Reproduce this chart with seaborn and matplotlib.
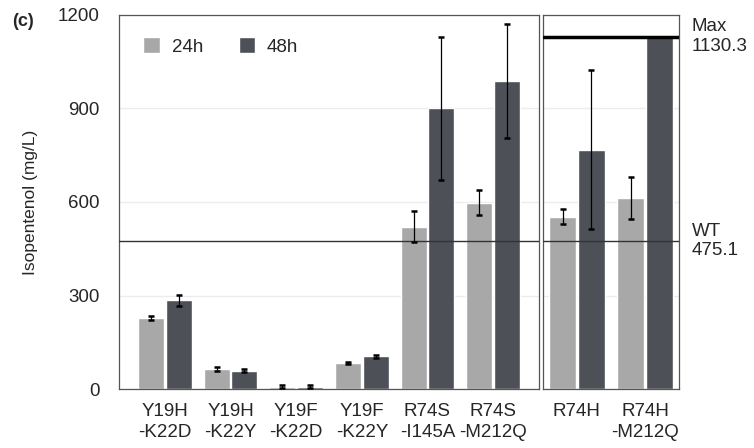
import matplotlib
matplotlib.use("Agg")
import matplotlib.pyplot as plt
import matplotlib.transforms as mtransforms
import seaborn as sns
import pandas as pd
import numpy as np

left_cats = ["Y19H\n-K22D", "Y19H\n-K22Y", "Y19F\n-K22D", "Y19F\n-K22Y", "R74S\n-I145A", "R74S\n-M212Q"]
right_cats = ["R74H", "R74H\n-M212Q"]
vals_24h = [228, 64, 8, 84, 521, 598, 553, 613]
vals_48h = [285, 59, 8, 105, 900, 988, 767, 1130.3]
err_24h = [6, 5, 4, 4, 50, 40, 25, 66]
err_48h = [18, 4, 4, 4, 228, 184, 255, 0]
series = ["24h", "48h"]
wt_value = 475.1
max_value = 1130.3
yticks = [0, 300, 600, 900, 1200]

colors = {"24h": "#a7a8a7", "48h": "#4d5157"}

sns.set_theme(style="white")
plt.rcParams['font.family'] = ['Liberation Sans', 'DejaVu Sans']

cats = left_cats + right_cats
rows = []
for i, c in enumerate(cats):
    rows.append({"cat": c, "time": "24h", "val": vals_24h[i], "err": err_24h[i]})
    rows.append({"cat": c, "time": "48h", "val": vals_48h[i], "err": err_48h[i]})
df = pd.DataFrame(rows)
df_left = df[df["cat"].isin(left_cats)]
df_right = df[df["cat"].isin(right_cats)]

FS = 13.5
TXT = "#262626"

fig = plt.figure(figsize=(7.54, 4.48), dpi=100)
ax1 = fig.add_axes([119/754, 1-389/448, (539-119)/754, (389-15)/448])
ax2 = fig.add_axes([543/754, 1-389/448, (679-543)/754, (389-15)/448])

for ax, d, order in [(ax1, df_left, left_cats), (ax2, df_right, right_cats)]:
    sns.barplot(data=d, x="cat", y="val", hue="time", order=order, hue_order=series,
                palette=colors, errorbar=None, width=0.84, gap=0.06, ax=ax,
                saturation=1, legend=(ax is ax1))
    for cont, t in zip(ax.containers, series):
        sub = d[d["time"] == t].set_index("cat").loc[order]
        xs = [p.get_x() + p.get_width()/2 for p in cont.patches]
        ax.errorbar(xs, sub["val"].values, yerr=sub["err"].values, fmt="none",
                    ecolor="black", elinewidth=0.9, capsize=2.5, capthick=1.8, zorder=5)
    ax.set_ylim(0, 1200)
    ax.set_yticks(yticks)
    ax.set_xlabel("")
    ax.grid(axis="y", color="#ececec", linewidth=1)
    ax.set_axisbelow(True)
    ax.axhline(wt_value, color="#333333", linewidth=1.0, zorder=4)
    ax.tick_params(axis="x", length=0, labelsize=FS, colors=TXT, pad=10)
    ax.tick_params(axis="y", length=0, labelsize=FS, colors=TXT, pad=14)
    for lab in ax.get_xticklabels():
        lab.set_linespacing(1.35)
    for s in ax.spines.values():
        s.set_color("#555555")
        s.set_linewidth(0.9)

ax1.set_ylabel("Isopentenol (mg/L)", fontsize=12.5, color=TXT, labelpad=14)
ax1.set_yticklabels([str(v) for v in yticks], fontsize=FS)
ax2.set_ylabel("")
ax2.set_yticklabels([])
ax2.axhline(max_value, color="black", linewidth=2.5, zorder=6)

ax1.legend(loc="upper left", ncol=2, frameon=False, fontsize=FS,
           handlelength=0.9, handleheight=0.9, columnspacing=1.9,
           handletextpad=0.6, bbox_to_anchor=(0.018, 0.985))
ax1.get_legend().set_title(None)
for t in ax1.get_legend().get_texts():
    t.set_color(TXT)

trans = mtransforms.blended_transform_factory(ax2.transAxes, ax2.transData)
ax2.text(1.095, max_value, "Max\n1130.3", transform=trans, va="center", ha="left",
         fontsize=FS, color=TXT, linespacing=1.2)
ax2.text(1.095, wt_value, "WT\n475.1", transform=trans, va="center", ha="left",
         fontsize=FS, color=TXT, linespacing=1.2)

fig.text(12/754, 1-22/448, "(c)", fontsize=13, fontweight="bold", va="center", ha="left", color=TXT)

fig.savefig("out.png", dpi=100)
